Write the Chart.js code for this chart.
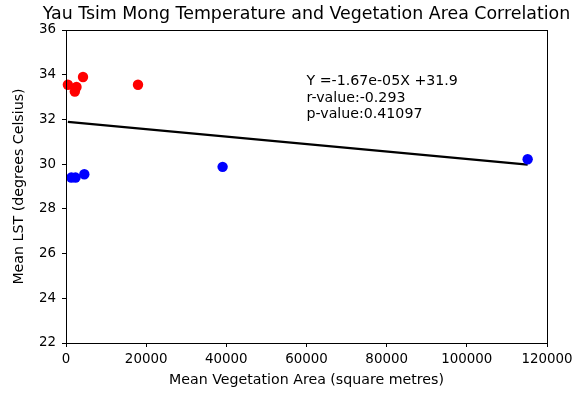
<!DOCTYPE html>
<html>
<head>
<meta charset="utf-8">
<script src="https://cdn.jsdelivr.net/npm/chart.js@4"></script>
<style>
  html, body { margin: 0; padding: 0; background: #fff; }
  #wrap { width: 582px; height: 393px; }
</style>
</head>
<body>
<div id="wrap"><canvas id="chart"></canvas></div>
<script>
// hotter districts (red) and cooler districts (blue)
const hotArea = [470, 2200, 2620, 4240, 17960];
const hotTemp = [33.55, 33.25, 33.45, 33.9, 33.55];
const coolArea = [1320, 2370, 4570, 39070, 115170];
const coolTemp = [29.4, 29.4, 29.55, 29.88, 30.22];

// fitted regression
const slope = -1.67e-05;
const intercept = 31.9;
const statLines = ['Y =-1.67e-05X +31.9', 'r-value:-0.293', 'p-value:0.41097'];

const xTicks = [0, 20000, 40000, 60000, 80000, 100000, 120000];
const yTicks = [22, 24, 26, 28, 30, 32, 34, 36];

const FONT = "'DejaVu Sans', sans-serif";

const allArea = hotArea.concat(coolArea);
const xMin = Math.min(...allArea);
const xMax = Math.max(...allArea);
const fitLine = [xMin, xMax].map(x => ({ x: x, y: slope * x + intercept }));

const toPoints = (xs, ys) => xs.map((x, i) => ({ x: x, y: ys[i] }));

// frame, title and the stats text
const decorations = {
  id: 'decorations',
  afterDraw(chart) {
    const { ctx, chartArea: a, scales } = chart;
    ctx.save();
    ctx.strokeStyle = '#000';
    ctx.lineWidth = 1;
    ctx.strokeRect(Math.round(a.left) + 0.5, Math.round(a.top) + 0.5,
      Math.round(a.right - a.left), Math.round(a.bottom - a.top));

    ctx.fillStyle = '#000';
    ctx.font = '17.4px ' + FONT;
    ctx.textAlign = 'center';
    ctx.textBaseline = 'middle';
    ctx.fillText('Yau Tsim Mong Temperature and Vegetation Area Correlation', (a.left + a.right) / 2, 14);

    ctx.font = '14.2px ' + FONT;
    ctx.textAlign = 'left';
    ctx.textBaseline = 'alphabetic';
    const tx = scales.x.getPixelForValue(60000);
    const ty = scales.y.getPixelForValue(32) - 1;
    statLines.slice().reverse().forEach((s, i) => ctx.fillText(s, tx, ty - i * 16.7));
    ctx.restore();
  }
};

new Chart(document.getElementById('chart'), {
  type: 'scatter',
  data: {
    datasets: [
      { data: toPoints(hotArea, hotTemp), backgroundColor: '#ff0000', borderWidth: 0, pointRadius: 5.2, clip: false, order: 1 },
      { data: toPoints(coolArea, coolTemp), backgroundColor: '#0000ff', borderWidth: 0, pointRadius: 5.2, clip: false, order: 1 },
      { type: 'line', data: fitLine, borderColor: '#000', borderWidth: 2.2, pointRadius: 0, fill: false, order: 2 }
    ]
  },
  options: {
    responsive: true,
    maintainAspectRatio: false,
    animation: false,
    events: [],
    layout: { padding: { top: 30, right: 35, bottom: 0, left: 0 } },
    plugins: { legend: { display: false }, tooltip: { enabled: false }, title: { display: false } },
    scales: {
      x: {
        type: 'linear',
        min: 0,
        max: 120000,
        afterBuildTicks: s => { s.ticks = xTicks.map(v => ({ value: v })); },
        afterFit: s => { s.height = 50; },
        grid: { display: true, drawOnChartArea: false, drawTicks: true, tickLength: 4, color: '#000' },
        border: { display: true, color: '#000', width: 1 },
        ticks: { color: '#000', font: { family: FONT, size: 13.4 }, padding: 4, maxRotation: 0, callback: v => String(v) },
        title: { display: true, text: 'Mean Vegetation Area (square metres)', color: '#000', font: { family: FONT, size: 14.2 }, padding: { top: 2, bottom: 4 } }
      },
      y: {
        min: 22,
        max: 36,
        afterBuildTicks: s => { s.ticks = yTicks.map(v => ({ value: v })); },
        afterFit: s => { s.width = 66; },
        grid: { display: true, drawOnChartArea: false, drawTicks: true, tickLength: 4, color: '#000' },
        border: { display: true, color: '#000', width: 1 },
        ticks: { color: '#000', font: { family: FONT, size: 13.4 }, padding: 6 },
        title: { display: true, text: 'Mean LST (degrees Celsius)', color: '#000', font: { family: FONT, size: 14.2 }, padding: { top: 11, bottom: 4 } }
      }
    }
  },
  plugins: [decorations]
});
</script>
</body>
</html>
